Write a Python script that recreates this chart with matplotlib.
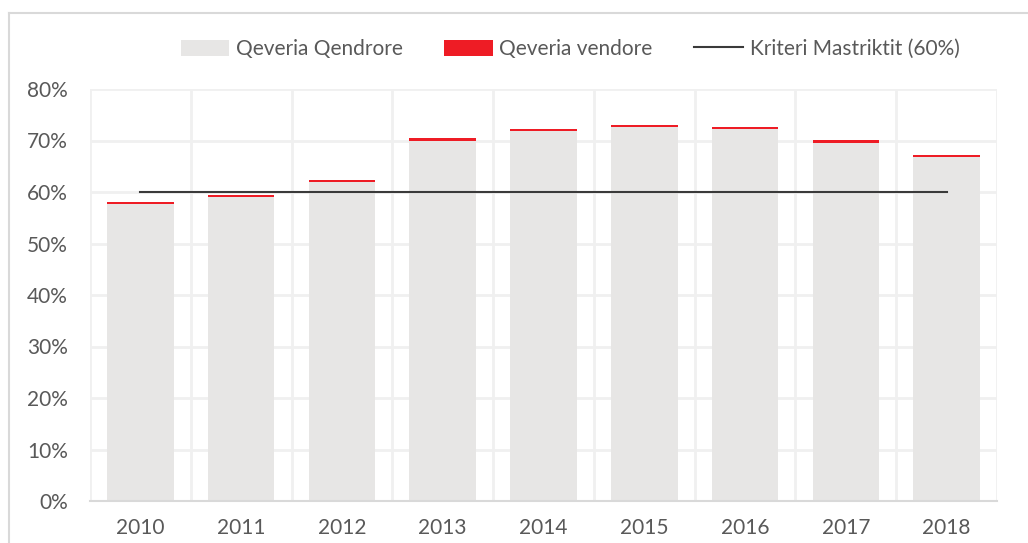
import matplotlib
matplotlib.use("Agg")
import matplotlib.pyplot as plt
from matplotlib.lines import Line2D
from matplotlib.ticker import FuncFormatter, MultipleLocator

plt.rcParams["font.family"] = ["Lato", "DejaVu Sans"]

years = ["2010", "2011", "2012", "2013", "2014", "2015", "2016", "2017", "2018"]
central = [57.6, 59.1, 62.0, 70.0, 71.8, 72.6, 72.2, 69.6, 66.8]
local = [0.4, 0.4, 0.4, 0.4, 0.4, 0.4, 0.4, 0.4, 0.4]
criterion = [60, 60, 60, 60, 60, 60, 60, 60, 60]

text_col = "#595959"
grid_col = "#f0f0f0"

fig = plt.figure(figsize=(10.28, 5.43), dpi=100)
ax = fig.add_axes([90 / 1028, 42 / 543, 907 / 1028, 412 / 543])

x = list(range(len(years)))
b1 = ax.bar(x, central, width=0.66, color="#e7e6e5", label="Qeveria Qendrore", zorder=2)
b2 = ax.bar(x, local, width=0.66, bottom=central, color="#ee1c25", label="Qeveria vendore", zorder=2)
ln, = ax.plot(x, criterion, color="#3a3a3a", lw=1.5, label="Kriteri Mastriktit (60%)", zorder=3)

ax.set_xlim(-0.5, len(years) - 0.5)
ax.set_ylim(0, 80)
ax.yaxis.set_major_locator(MultipleLocator(10))
ax.yaxis.set_major_formatter(FuncFormatter(lambda v, _: f"{v:.0f}%"))
ax.set_xticks(x)
ax.set_xticklabels(years)
ax.set_xticks([i - 0.5 for i in range(len(years) + 1)], minor=True)

ax.grid(axis="y", which="major", color=grid_col, lw=2, zorder=0)
ax.grid(axis="x", which="minor", color=grid_col, lw=2, zorder=0)
ax.tick_params(axis="both", which="both", length=0, labelsize=15, colors=text_col)
ax.tick_params(axis="y", pad=16)
ax.tick_params(axis="x", pad=12)

for s in ["top", "right", "left"]:
    ax.spines[s].set_visible(False)
ax.spines["bottom"].set_color("#d9d9d9")
ax.spines["bottom"].set_linewidth(1.5)

# outer chart border (top and left edges visible)
fig.add_artist(Line2D([9 / 1028, 9 / 1028], [0, 1 - 13 / 543], transform=fig.transFigure, color="#d9d9d9", lw=1.5))
fig.add_artist(Line2D([9 / 1028, 1], [1 - 13 / 543, 1 - 13 / 543], transform=fig.transFigure, color="#d9d9d9", lw=1.5))

leg = fig.legend([b1, b2, ln], [b1.get_label(), b2.get_label(), ln.get_label()],
                 loc="center", bbox_to_anchor=(570 / 1028, 1 - 49 / 543), ncol=3, frameon=False,
                 fontsize=15, handlelength=2.35, handleheight=0.8, columnspacing=2.0, handletextpad=0.3)
for t in leg.get_texts():
    t.set_color(text_col)

fig.savefig("out.png", dpi=100)
